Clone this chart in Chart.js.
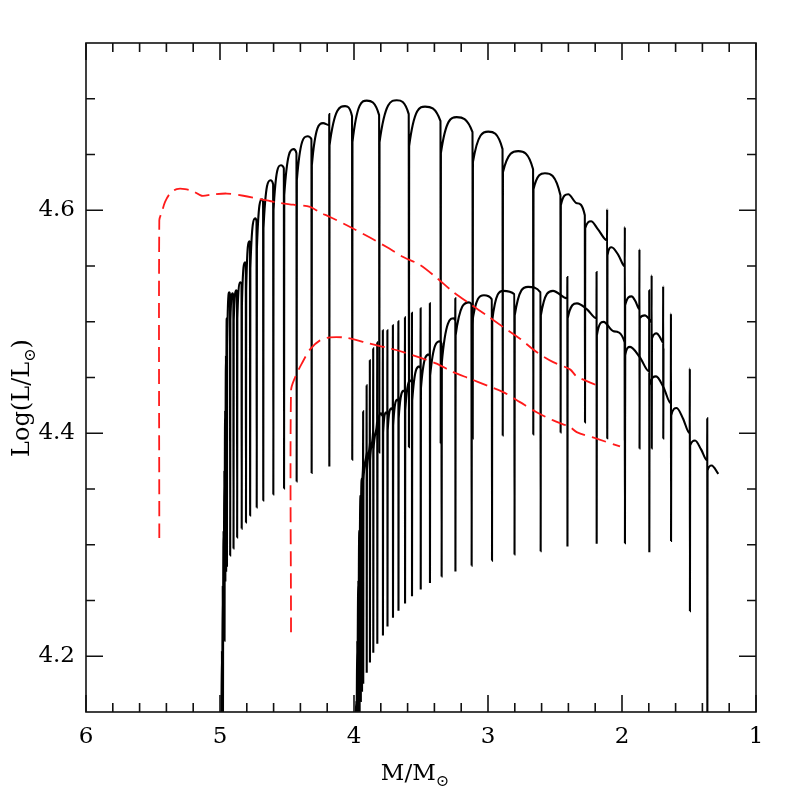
<!DOCTYPE html>
<html>
<head>
<meta charset="utf-8">
<script src="https://cdn.jsdelivr.net/npm/chart.js@4.4.0/dist/chart.umd.min.js"></script>
<style>
  html, body { margin: 0; padding: 0; background: #fff; }
  #wrap { width: 797px; height: 797px; }
</style>
</head>
<body>
<div id="wrap"><canvas id="chart" width="797" height="797"></canvas></div>
<script>
// [TICKS]
const xMajorTicks = [6, 5, 4, 3, 2, 1];
const xMinorTicks = [5.8, 5.6, 5.4, 5.2, 4.8, 4.6, 4.4, 4.2, 3.8, 3.6, 3.4, 3.2, 2.8, 2.6, 2.4, 2.2, 1.8, 1.6, 1.4, 1.2];
const yMajorTicks = [4.2, 4.4, 4.6];
const yMinorTicks = [4.25, 4.3, 4.35, 4.45, 4.5, 4.55, 4.65, 4.7];

// [TRACK 1] arch points (start, tops, shoulders)
const t1ArchMass = [4.990, 4.931, 4.906, 4.878, 4.847, 4.813, 4.781, 4.737, 4.687, 4.623, 4.545, 4.451, 4.347, 4.231,
  4.067, 3.905, 3.681, 3.470, 3.234, 2.998, 2.774, 2.575, 2.401, 2.336, 2.231, 2.179, 2.078, 2.026, 1.929, 1.899,
  1.828, 1.802, 1.741, 1.716];
const t1ArchLum = [4.1377, 4.5264, 4.5255, 4.5282, 4.5354, 4.5533, 4.5722, 4.5928, 4.6099, 4.6269, 4.6404, 4.6548, 4.6664, 4.6781,
  4.6934, 4.6983, 4.6987, 4.6929, 4.6835, 4.6705, 4.6530, 4.6332, 4.6144, 4.6063, 4.5901, 4.5829, 4.5668, 4.5596, 4.5228, 4.5183,
  4.5057, 4.5031, 4.4896, 4.4860];
// [TRACK 1] pulses: mass, level before, upward flash, lowest point, level after
const t1DipMass = [4.984, 4.978, 4.972, 4.966, 4.960, 4.954, 4.948, 4.924, 4.899, 4.872, 4.838, 4.806, 4.775, 4.726, 4.677,
  4.602, 4.522, 4.428, 4.316, 4.184, 4.013, 3.811, 3.590, 3.353, 3.114, 2.890, 2.662, 2.458, 2.276, 2.110, 1.978,
  1.869, 1.778, 1.692];
const t1DipPre = [4.2050, 4.2634, 4.3127, 4.3666, 4.4205, 4.4698, 4.5031, 4.5246, 4.5228, 4.5264, 4.5336, 4.5515, 4.5695, 4.5901, 4.6072,
  4.6233, 4.6377, 4.6512, 4.6637, 4.6763, 4.6844, 4.6853, 4.6862, 4.6799, 4.6700, 4.6548, 4.6368, 4.6135, 4.5955, 4.5731, 4.5497,
  4.5111, 4.4995, 4.4815];
const t1DipUp = [null, null, null, null, null, null, null, null, null, null, null, null, null, null, null,
  null, null, null, null, 4.6862, null, null, null, null, null, null, null, null, null, 4.6009, 4.5850,
  4.5650, 4.5417, 4.5318];
const t1DipLow = [4.1330, 4.1377, 4.2706, 4.2140, 4.2679, 4.2768, 4.2813, 4.2903, 4.2966, 4.3065, 4.3145, 4.3199, 4.3262, 4.3334, 4.3397,
  4.3451, 4.3504, 4.3567, 4.3644, 4.3702, 4.3762, 4.3828, 4.3875, 4.3911, 4.3953, 4.3980, 4.3989, 4.4007, 4.4097, 4.3956, 4.3935,
  4.3864, 4.3864, 4.3953];
const t1DipPost = [4.1916, 4.2454, 4.2948, 4.3442, 4.3935, 4.4429, 4.4788, 4.5013, 4.5013, 4.5031, 4.5147, 4.5282, 4.5479, 4.5659, 4.5838,
  4.6000, 4.6135, 4.6269, 4.6404, 4.6583, 4.6610, 4.6610, 4.6575, 4.6512, 4.6431, 4.6341, 4.6189, 4.6045, 4.5838, 4.5596, 4.5147,
  4.5031, 4.4851, 4.4761];

// [TRACK 2] arch points (start, tops, shoulders, end)
const t2ArchMass = [3.990, 3.799, 3.759, 3.720, 3.675, 3.627, 3.575, 3.511, 3.440, 3.358, 3.254, 3.142, 3.030, 2.886, 2.701,
  2.515, 2.336, 2.261, 2.138, 2.060, 1.940, 1.866, 1.746, 1.690, 1.592, 1.545, 1.455, 1.410, 1.331, 1.281];
const t2ArchLum = [4.1377, 4.4178, 4.4187, 4.4223, 4.4303, 4.4384, 4.4474, 4.4600, 4.4707, 4.4824, 4.5031, 4.5174, 4.5237, 4.5277, 4.5313,
  4.5277, 4.5165, 4.5111, 4.4999, 4.4914, 4.4775, 4.4680, 4.4510, 4.4411, 4.4227, 4.4133, 4.3935, 4.3855, 4.3711, 4.3635];
const t2DipMass = [3.981, 3.974, 3.966, 3.958, 3.949, 3.940, 3.931, 3.905, 3.881, 3.856, 3.826, 3.784, 3.750, 3.709, 3.668, 3.619,
  3.567, 3.502, 3.433, 3.346, 3.243, 3.122, 2.970, 2.802, 2.607, 2.407, 2.189, 1.978, 1.796, 1.634, 1.493, 1.363];
const t2DipPre = [4.1600, 4.2140, 4.2679, 4.3127, 4.3442, 4.3594, 4.3711, 4.3828, 4.3917, 4.4016, 4.4106, 4.4151, 4.4169, 4.4205, 4.4285, 4.4366,
  4.4456, 4.4582, 4.4689, 4.4806, 4.5013, 4.5156, 4.5201, 4.5246, 4.5264, 4.5210, 4.5031, 4.4815, 4.4555, 4.4268, 4.3998, 4.3756];
const t2DipUp = [null, null, null, null, null, null, 4.4196, 4.4429, 4.4654, 4.4761, 4.4815, 4.4923, 4.4923, 4.4968, 4.5004, 4.5039,
  4.5080, 4.5120, 4.5165, null, 4.5210, null, null, null, null, 4.5401, 4.5446, null, 4.5282, 4.5075, 4.4582, 4.4133];
const t2DipLow = [4.1330, 4.1330, 4.1377, 4.1467, 4.1600, 4.1691, 4.1754, 4.1853, 4.1943, 4.2032, 4.2113, 4.2185, 4.2266, 4.2346, 4.2409, 4.2472,
  4.2539, 4.2598, 4.2656, 4.2715, 4.2759, 4.2813, 4.2858, 4.2912, 4.2942, 4.2984, 4.3008, 4.3013, 4.2933, 4.3033, 4.2405, 4.1330];
const t2DipPost = [4.1557, 4.2005, 4.2499, 4.2948, 4.3307, 4.3487, 4.3576, 4.3666, 4.3756, 4.3846, 4.3935, 4.4007, 4.4025, 4.4070, 4.4133, 4.4205,
  4.4294, 4.4402, 4.4519, 4.4636, 4.4878, 4.4968, 4.5013, 4.5057, 4.5057, 4.5031, 4.4878, 4.4698, 4.4429, 4.4160, 4.3890, 4.3666];

// [RED DASHED TRACKS]
const r1Mass = [5.453, 5.453, 5.435, 5.410, 5.373, 5.323, 5.261, 5.199, 5.137, 5.062, 4.950, 4.826, 4.701, 4.577, 4.453, 4.328,
  4.254, 4.179, 4.054, 3.881, 3.756, 3.632, 3.507, 3.383, 3.259, 3.134, 3.010, 2.886, 2.761, 2.637, 2.513, 2.388, 2.338, 2.189];
const r1Lum = [4.306, 4.591, 4.598, 4.6075, 4.615, 4.619, 4.619, 4.617, 4.613, 4.614, 4.615, 4.613, 4.610, 4.607, 4.605, 4.603,
  4.598, 4.594, 4.5865, 4.5755, 4.567, 4.558, 4.551, 4.5394, 4.5267, 4.516, 4.5057, 4.4952, 4.4848, 4.4728, 4.4638, 4.4573, 4.451, 4.443];
const r2Mass = [4.470, 4.470, 4.440, 4.390, 4.328, 4.254, 4.179, 4.054, 3.881, 3.756, 3.632, 3.507, 3.383, 3.259, 3.134, 3.010,
  2.886, 2.761, 2.637, 2.513, 2.388, 2.338, 2.189, 2.015];
const r2Lum = [4.2215, 4.4384, 4.450, 4.4624, 4.4752, 4.4833, 4.486, 4.4856, 4.4803, 4.4768, 4.4728, 4.4678, 4.4624, 4.4548, 4.4489, 4.4429,
  4.4369, 4.4279, 4.4189, 4.4115, 4.4055, 4.401, 4.3951, 4.3882];

const DIP_HALF = 0.0015; // half width of a pulse spike, in Msun

function buildTrack(archMass, archLum, dipMass, dipPre, dipUp, dipLow, dipPost) {
    const pts = [];
    archMass.forEach((m, i) => pts.push({ x: m, y: archLum[i] }));
    dipMass.forEach((m, i) => {
        pts.push({ x: m + DIP_HALF, y: dipPre[i] });
        if (dipUp[i] !== null) pts.push({ x: m + DIP_HALF / 2, y: dipUp[i] });
        pts.push({ x: m, y: dipLow[i] });
        pts.push({ x: m - DIP_HALF, y: dipPost[i] });
    });
    // mass decreases with time
    pts.sort((a, b) => b.x - a.x);
    return pts;
}

function pairs(xs, ys) {
    return xs.map((x, i) => ({ x: x, y: ys[i] }));
}

const FONT = "'DejaVu Serif', 'Liberation Serif', serif";

// inward ticks on the four sides + frame
const frameTicks = {
    id: 'frameTicks',
    afterDraw(chart) {
        const { ctx, chartArea: a, scales } = chart;
        const xs = scales.x, ys = scales.y;
        ctx.save();
        ctx.strokeStyle = '#111';
        ctx.lineWidth = 1.6;
        ctx.beginPath();
        const xt = (vals, len) => vals.forEach(v => {
            const px = xs.getPixelForValue(v);
            ctx.moveTo(px, a.bottom); ctx.lineTo(px, a.bottom - len);
            ctx.moveTo(px, a.top); ctx.lineTo(px, a.top + len);
        });
        const yt = (vals, len) => vals.forEach(v => {
            const py = ys.getPixelForValue(v);
            ctx.moveTo(a.left, py); ctx.lineTo(a.left + len, py);
            ctx.moveTo(a.right, py); ctx.lineTo(a.right - len, py);
        });
        xt(xMajorTicks, 17); xt(xMinorTicks, 9);
        yt(yMajorTicks, 17); yt(yMinorTicks, 9);
        ctx.stroke();
        ctx.strokeRect(a.left, a.top, a.right - a.left, a.bottom - a.top);
        ctx.restore();
    }
};

// axis titles with a sun subscript
function drawSubLabel(ctx, main, sub, tail, cx, cy, size) {
    const mainFont = `${size}px ${FONT}`;
    const subFont = `${Math.round(size * 0.68)}px ${FONT}`;
    ctx.font = mainFont; const w1 = ctx.measureText(main).width; const w3 = ctx.measureText(tail).width;
    ctx.font = subFont; const w2 = ctx.measureText(sub).width;
    let x = cx - (w1 + w2 + w3) / 2;
    ctx.textBaseline = 'alphabetic';
    ctx.textAlign = 'left';
    ctx.font = mainFont; ctx.fillText(main, x, cy); x += w1;
    ctx.font = subFont; ctx.fillText(sub, x, cy + size * 0.25); x += w2;
    ctx.font = mainFont; ctx.fillText(tail, x, cy);
}

const axisTitles = {
    id: 'axisTitles',
    afterDraw(chart) {
        const { ctx } = chart;
        ctx.save();
        ctx.fillStyle = '#000';
        drawSubLabel(ctx, 'M/M', '\u2299', '', 415, 780, 23);
        ctx.translate(29, 398);
        ctx.rotate(-Math.PI / 2);
        drawSubLabel(ctx, 'Log(L/L', '\u2299', ')', 0, 0, 24);
        ctx.restore();
    }
};

const blackLine = {
    showLine: true, pointRadius: 0, borderColor: '#000', borderWidth: 2.1,
    cubicInterpolationMode: 'monotone', fill: false
};
const redLine = {
    showLine: true, pointRadius: 0, borderColor: '#ff1a1a', borderWidth: 1.8,
    borderDash: [15, 7], tension: 0.3, fill: false
};

new Chart(document.getElementById('chart'), {
    type: 'scatter',
    data: {
        datasets: [
            Object.assign({ label: 'r1', data: pairs(r1Mass, r1Lum) }, redLine),
            Object.assign({ label: 'r2', data: pairs(r2Mass, r2Lum) }, redLine),
            Object.assign({ label: 't1', data: buildTrack(t1ArchMass, t1ArchLum, t1DipMass, t1DipPre, t1DipUp, t1DipLow, t1DipPost) }, blackLine),
            Object.assign({ label: 't2', data: buildTrack(t2ArchMass, t2ArchLum, t2DipMass, t2DipPre, t2DipUp, t2DipLow, t2DipPost) }, blackLine)
        ]
    },
    options: {
        responsive: false,
        animation: false,
        devicePixelRatio: 1,
        events: [],
        layout: { padding: { left: 0, right: 41, top: 43, bottom: 0 } },
        plugins: { legend: { display: false }, tooltip: { enabled: false } },
        scales: {
            x: {
                type: 'linear', reverse: true, min: 1, max: 6,
                grid: { display: false, drawTicks: false }, border: { display: false },
                afterBuildTicks: (s) => { s.ticks = xMajorTicks.map(v => ({ value: v })); },
                afterFit: (s) => { s.height = 85; },
                ticks: { padding: 11, color: '#000', font: { family: FONT, size: 23 }, callback: (v) => String(v) }
            },
            y: {
                type: 'linear', min: 4.15, max: 4.75,
                grid: { display: false, drawTicks: false }, border: { display: false },
                afterBuildTicks: (s) => { s.ticks = yMajorTicks.map(v => ({ value: v })); },
                afterFit: (s) => { s.width = 86; },
                ticks: { padding: 11, color: '#000', font: { family: FONT, size: 23 }, callback: (v) => v.toFixed(1) }
            }
        }
    },
    plugins: [frameTicks, axisTitles]
});
</script>
</body>
</html>
